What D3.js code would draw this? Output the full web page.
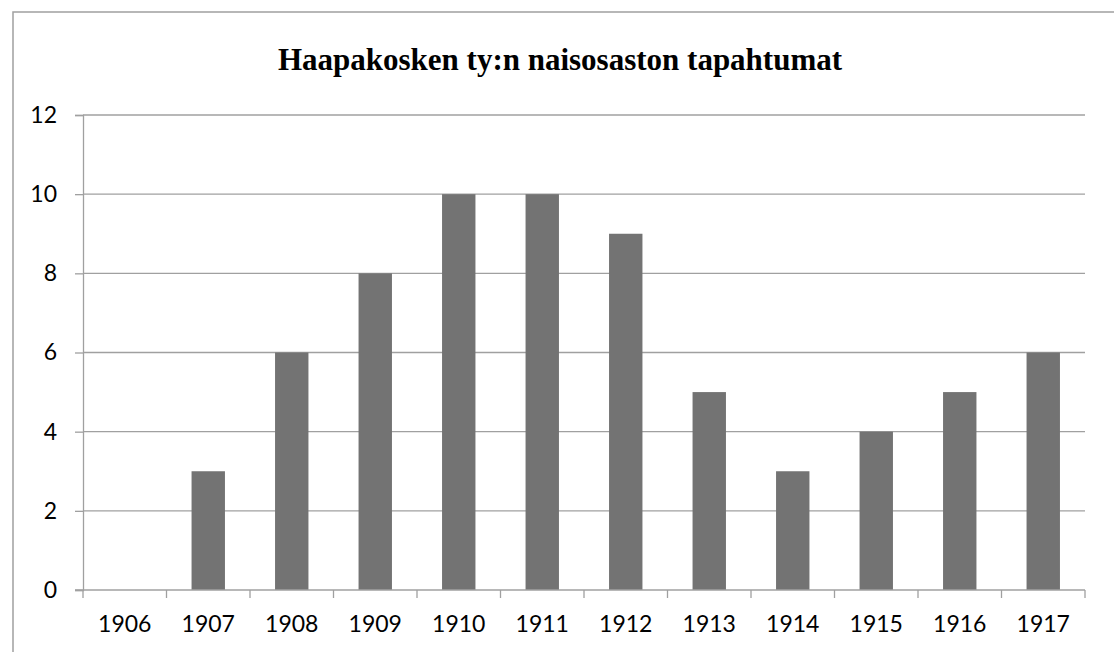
<!DOCTYPE html>
<html>
<head>
    <script src="https://d3js.org/d3.v7.min.js"></script>
    <style>
        body { margin: 0; background: #fff; overflow: hidden; }
        .tick text { font-family: Lato, "Open Sans", sans-serif; fill: #000; }
    </style>
</head>
<body>
    <div id="chart"></div>
    <script>
        const years = ['1906','1907','1908','1909','1910','1911','1912','1913','1914','1915','1916','1917'];
        const events = [0, 3, 6, 8, 10, 10, 9, 5, 3, 4, 5, 6];
        const yTicks = [0, 2, 4, 6, 8, 10, 12];
        const title = 'Haapakosken ty:n naisosaston tapahtumat';

        const width = 1114, height = 652;
        const plotLeft = 83, plotRight = 1085, plotTop = 115, plotBottom = 590;

        const svg = d3.select('#chart').append('svg')
            .attr('width', width).attr('height', height);

        // outer frame (cut off at right/bottom)
        svg.append('rect')
            .attr('x', 13).attr('y', 12)
            .attr('width', 1200).attr('height', 800)
            .attr('fill', 'none').attr('stroke', '#a0a0a0').attr('stroke-width', 1.5);

        svg.append('text')
            .attr('x', 560).attr('y', 70)
            .attr('text-anchor', 'middle')
            .style('font-family', '"Liberation Serif", "Times New Roman", serif')
            .style('font-weight', 'bold')
            .style('font-size', '31px')
            .text(title);

        const x = d3.scaleBand().domain(years).range([plotLeft, plotRight]).paddingInner(0.6).paddingOuter(0.3);
        const xb = d3.scaleBand().domain(years).range([plotLeft, plotRight]);
        const y = d3.scaleLinear().domain([0, 12]).range([plotBottom, plotTop]);

        // gridlines + y axis
        const yAxis = svg.append('g')
            .attr('transform', `translate(${plotLeft},0)`)
            .call(d3.axisLeft(y).tickValues(yTicks).tickSize(8).tickPadding(18));
        yAxis.select('.domain').attr('stroke', '#a0a0a0').attr('stroke-width', 1.3);
        yAxis.selectAll('.tick line').attr('stroke', '#a0a0a0').attr('stroke-width', 1.3);
        yAxis.selectAll('.tick text').style('font-size', '23px');

        svg.append('g').selectAll('line')
            .data(yTicks.filter(d => d > 0))
            .join('line')
            .attr('x1', plotLeft).attr('x2', plotRight)
            .attr('y1', d => y(d)).attr('y2', d => y(d))
            .attr('stroke', '#a0a0a0').attr('stroke-width', 1.3);

        svg.append('g').selectAll('rect')
            .data(events)
            .join('rect')
            .attr('x', (d, i) => x(years[i]))
            .attr('width', x.bandwidth())
            .attr('y', d => y(d))
            .attr('height', d => y(0) - y(d))
            .attr('fill', '#737373');

        // x axis: boundary ticks
        const xAxis = svg.append('g')
            .attr('transform', `translate(0,${plotBottom})`)
            .call(d3.axisBottom(xb).tickSize(0).tickPadding(26));
        xAxis.select('.domain').remove();
        xAxis.selectAll('.tick text').style('font-size', '23px');
        xAxis.append('line')
            .attr('x1', plotLeft - 8).attr('x2', plotRight)
            .attr('stroke', '#a0a0a0').attr('stroke-width', 1.3);
        xAxis.selectAll('.bound')
            .data(years.map(d => xb(d)).concat([plotRight]))
            .join('line')
            .attr('class', 'bound')
            .attr('x1', d => d).attr('x2', d => d)
            .attr('y1', 0).attr('y2', 8)
            .attr('stroke', '#a0a0a0').attr('stroke-width', 1.3);
    </script>
</body>
</html>
